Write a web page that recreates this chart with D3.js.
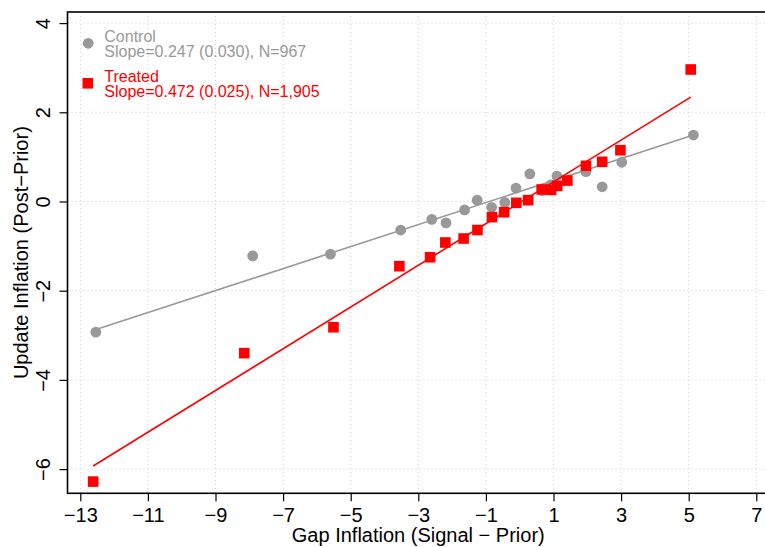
<!DOCTYPE html>
<html>
<head>
<meta charset="utf-8">
<script src="https://cdn.jsdelivr.net/npm/d3@7"></script>
<style>
  html, body { margin: 0; padding: 0; background: #fff; }
  svg { display: block; }
  text { font-family: "Liberation Sans", Arial, Helvetica, sans-serif; }
</style>
</head>
<body>
<svg id="chart" width="765" height="547"></svg>
<script>
// ---- data ----
const controlX = [-12.54, -7.90, -5.60, -3.52, -2.60, -2.18, -1.63, -1.26, -0.83, -0.44, -0.11, 0.30, 0.67, 0.92, 1.10, 1.96, 2.44, 3.02, 5.14];
const controlY = [-2.93, -1.22, -1.18, -0.64, -0.40, -0.48, -0.19, 0.03, -0.13, -0.02, 0.30, 0.62, 0.24, 0.37, 0.57, 0.67, 0.33, 0.88, 1.49];
const treatedX = [-12.62, -8.15, -5.51, -3.56, -2.65, -2.20, -1.66, -1.25, -0.82, -0.46, -0.10, 0.25, 0.65, 0.93, 1.11, 1.41, 1.96, 2.44, 2.98, 5.06];
const treatedY = [-6.28, -3.40, -2.82, -1.45, -1.25, -0.92, -0.83, -0.64, -0.35, -0.24, -0.03, 0.03, 0.27, 0.26, 0.35, 0.47, 0.80, 0.89, 1.15, 2.96];
const controlFitY = [-2.87, 1.49];   // fitted line at min / max x
const treatedFitY = [-5.93, 2.34];
const xTicks = [-13, -11, -9, -7, -5, -3, -1, 1, 3, 5, 7];
const yTicks = [-6, -4, -2, 0, 2, 4];
const legendLabels = [["Control", "Slope=0.247 (0.030), N=967"], ["Treated", "Slope=0.472 (0.025), N=1,905"]];
const xTitle = "Gap Inflation (Signal \u2212 Prior)";
const yTitle = "Update Inflation (Post\u2212Prior)";

// ---- layout ----
const GRAY = "#999999", RED = "#ff0000";
const box = { left: 67.5, right: 769, top: 12, bottom: 493.3 };
const svg = d3.select("#chart");
const x = d3.scaleLinear().domain([-13, 7]).range([80.3, 756.3]);
const y = d3.scaleLinear().domain([-6, 4]).range([469.1, 23.1]);
const fmt = v => (v < 0 ? "\u2212" + Math.abs(v) : String(v));

// grid
const grid = svg.append("g").attr("stroke", "#cfcfcf").attr("stroke-width", 1).attr("stroke-dasharray", "1,3");
grid.selectAll("line.v").data(xTicks).join("line").attr("class", "v")
  .attr("x1", d => x(d)).attr("x2", d => x(d)).attr("y1", box.top).attr("y2", box.bottom);
grid.selectAll("line.h").data(yTicks).join("line").attr("class", "h")
  .attr("y1", d => y(d)).attr("y2", d => y(d)).attr("x1", box.left).attr("x2", box.right);

// axes
const xAxis = svg.append("g").attr("transform", `translate(0,${box.bottom})`)
  .call(d3.axisBottom(x).tickValues(xTicks).tickFormat(fmt).tickSize(8).tickSizeOuter(0));
xAxis.select(".domain").remove();
xAxis.selectAll(".tick line").attr("stroke", "#000").attr("stroke-width", 1.2);
xAxis.selectAll(".tick text").attr("y", 28.4).attr("dy", 0).attr("fill", "#000")
  .style("font-size", "20px");

const yAxis = svg.append("g").attr("transform", `translate(${box.left},0)`)
  .call(d3.axisLeft(y).tickValues(yTicks).tickFormat(fmt).tickSize(8).tickSizeOuter(0));
yAxis.select(".domain").remove();
yAxis.selectAll(".tick line").attr("stroke", "#000").attr("stroke-width", 1.2);
yAxis.selectAll(".tick text").attr("x", null).attr("dy", 0)
  .attr("transform", "translate(-17.5,0) rotate(-90)")
  .attr("text-anchor", "middle").attr("fill", "#000").style("font-size", "20px");

// frame
svg.append("rect").attr("x", box.left).attr("y", box.top)
  .attr("width", box.right - box.left).attr("height", box.bottom - box.top)
  .attr("fill", "none").attr("stroke", "#000").attr("stroke-width", 1.6);

// titles
svg.append("text").attr("x", (box.left + box.right) / 2).attr("y", 541.7)
  .attr("text-anchor", "middle").style("font-size", "20px").text(xTitle);
svg.append("text").attr("transform", `translate(28.3,${(box.top + box.bottom) / 2}) rotate(-90)`)
  .attr("text-anchor", "middle").style("font-size", "20px").text(yTitle);

// control points + line
const control = controlX.map((v, i) => ({ x: v, y: controlY[i] }));
const treated = treatedX.map((v, i) => ({ x: v, y: treatedY[i] }));

svg.append("g").selectAll("circle").data(control).join("circle")
  .attr("cx", d => x(d.x)).attr("cy", d => y(d.y)).attr("r", 5.4).attr("fill", GRAY);

const line = d3.line().x(d => x(d[0])).y(d => y(d[1]));
const cExt = d3.extent(controlX), tExt = d3.extent(treatedX);
svg.append("path").datum([[cExt[0], controlFitY[0]], [cExt[1], controlFitY[1]]])
  .attr("d", line).attr("stroke", GRAY).attr("stroke-width", 1.6).attr("fill", "none");

const S = 10.6;
svg.append("g").selectAll("rect").data(treated).join("rect")
  .attr("x", d => x(d.x) - S / 2).attr("y", d => y(d.y) - S / 2)
  .attr("width", S).attr("height", S).attr("fill", RED);

svg.append("path").datum([[tExt[0], treatedFitY[0]], [tExt[1], treatedFitY[1]]])
  .attr("d", line).attr("stroke", RED).attr("stroke-width", 1.6).attr("fill", "none");

// legend
const lg = svg.append("g");
lg.append("circle").attr("cx", 88.2).attr("cy", 43.3).attr("r", 5.4).attr("fill", GRAY);
lg.append("rect").attr("x", 87.8 - S / 2).attr("y", 83.3 - S / 2).attr("width", S).attr("height", S).attr("fill", RED);
const lgColors = [GRAY, RED];
const lgBase = [[41.5, 57.3], [81.5, 97.2]];
legendLabels.forEach((pair, i) => {
  pair.forEach((t, j) => {
    lg.append("text").attr("x", 104.3).attr("y", lgBase[i][j]).attr("fill", lgColors[i])
      .style("font-size", "16px").text(t);
  });
});
</script>
</body>
</html>
